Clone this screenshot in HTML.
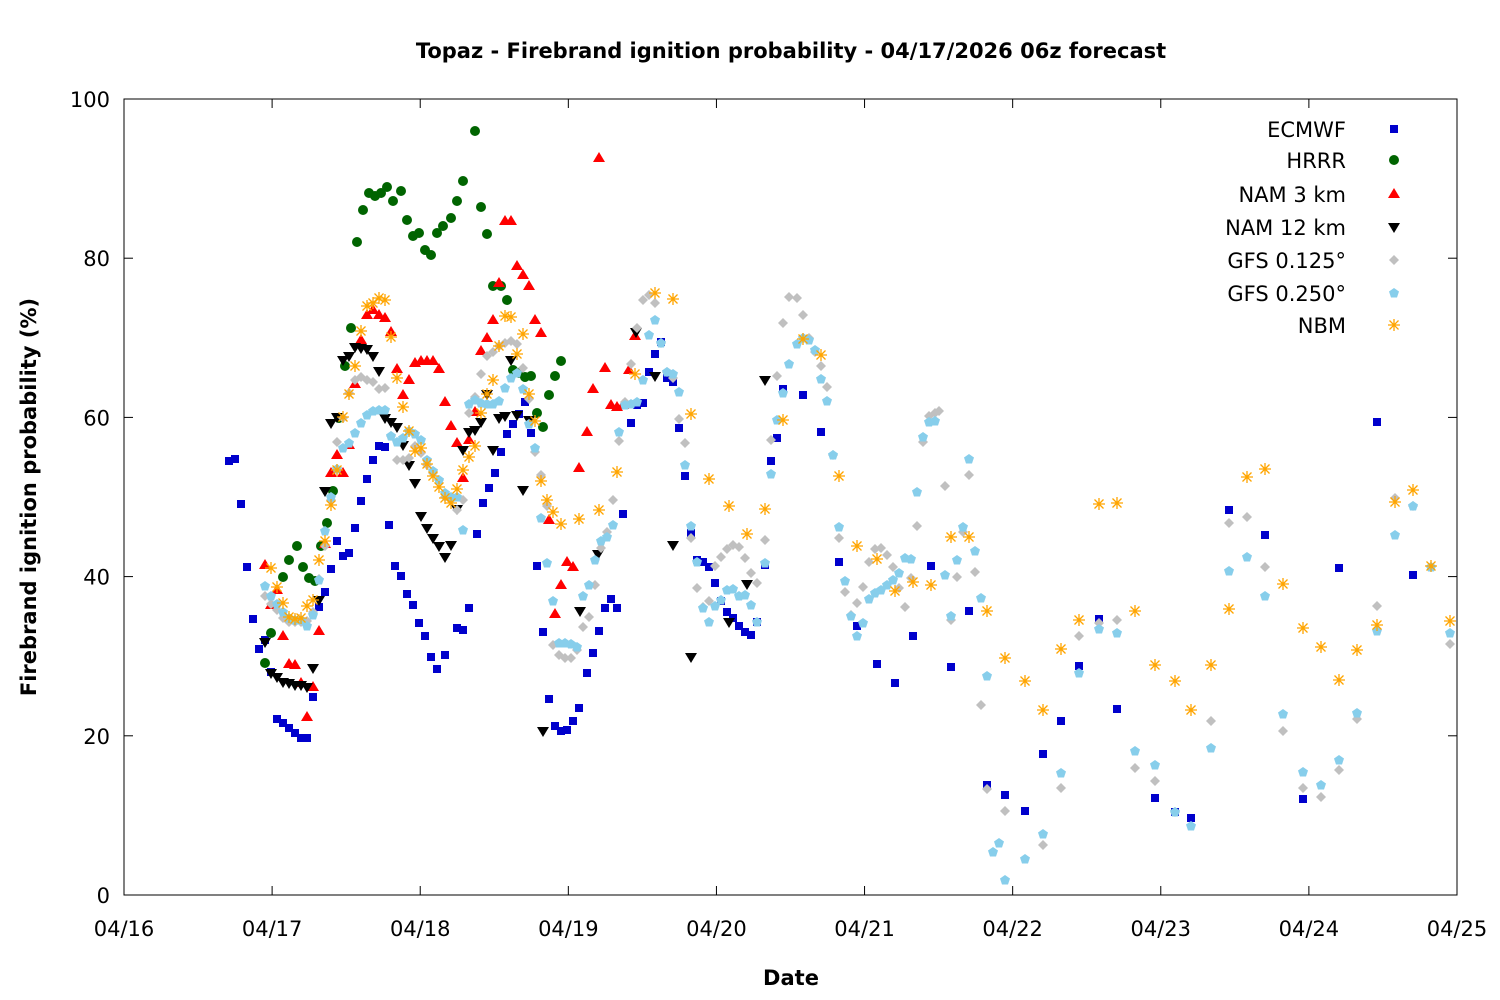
<!DOCTYPE html>
<html><head><meta charset="utf-8"><style>
body{margin:0;background:#fff;}
svg{display:block;font-family:"DejaVu Sans","Liberation Sans",sans-serif;}
</style></head><body>
<svg id="s" width="1500" height="1000" xmlns="http://www.w3.org/2000/svg">
<rect width="1500" height="1000" fill="#fff"/>
<text x="791" y="58" text-anchor="middle" font-size="21" font-weight="bold">Topaz - Firebrand ignition probability - 04/17/2026 06z forecast</text>
<text x="791" y="985" text-anchor="middle" font-size="21" font-weight="bold">Date</text>
<text transform="translate(36,497) rotate(-90)" text-anchor="middle" font-size="21" font-weight="bold">Firebrand ignition probability (%)</text>
<g id="ax" stroke="#000" stroke-width="1" fill="none"><rect x="124" y="99" width="1333" height="796"/></g>
<g id="lab" font-size="21"></g>
<g id="pts"></g>
</svg>
<script>
const NS="http://www.w3.org/2000/svg";
const ax=document.getElementById('ax'),lab=document.getElementById('lab'),pts=document.getElementById('pts');
function el(p,tag,a,t){const e=document.createElementNS(NS,tag);for(const k in a)e.setAttribute(k,a[k]);if(t)e.textContent=t;p.appendChild(e);return e;}
for(let i=0;i<=5;i++){const y=895-i*159.2;el(ax,'line',{x1:124,y1:y,x2:133,y2:y});el(ax,'line',{x1:1457,y1:y,x2:1448,y2:y});el(lab,'text',{x:110,y:y+8,'text-anchor':'end'},String(i*20));}
const days=['04/16','04/17','04/18','04/19','04/20','04/21','04/22','04/23','04/24','04/25'];
for(let i=0;i<=9;i++){const x=124+i*148.11;el(ax,'line',{x1:x,y1:895,x2:x,y2:886});el(ax,'line',{x1:x,y1:99,x2:x,y2:108});el(lab,'text',{x:x,y:936,'text-anchor':'middle'},days[i]);}
function P(s){return s.trim().split(/\)\s*,\s*\(/).map(q=>q.replace(/[()]/g,'').split(',').map(Number));}
const D={
ec:P("(229,461),(235,459),(241,504),(247,567),(253,619),(259,649),(265,640),(271,672),(277,719),(283,723),(289,728),(295,733),(301,738),(307,738),(313,697),(319,607),(325,592),(331,569),(337,541),(343,556),(349,553),(355,528),(361,501),(367,479),(373,460),(379,446),(385,447),(389,525),(395,566),(401,576),(407,594),(413,605),(419,623),(425,636),(431,657),(437,669),(445,655),(457,628),(463,630),(469,608),(477,534),(483,503),(489,488),(495,473),(501,452),(507,434),(513,424),(519,414),(525,402),(531,433),(537,566),(543,632),(549,699),(555,726),(561,731),(567,730),(573,721),(579,708),(587,673),(593,653),(599,631),(605,608),(611,599),(617,608),(623,514),(631,423),(637,405),(643,403),(649,372),(655,354),(661,342),(667,378),(673,382),(679,428),(685,476),(691,533),(697,560),(703,562),(709,567),(715,583),(721,601),(727,612),(733,618),(739,626),(745,632),(751,635),(757,622),(765,565),(771,461),(777,438),(783,389),(803,395),(821,432),(839,562),(857,626),(877,664),(895,683),(913,636),(931,566),(951,667),(969,611),(987,785),(1005,795),(1025,811),(1043,754),(1061,721),(1079,666),(1099,619),(1117,709),(1155,798),(1175,812),(1191,818),(1229,510),(1265,535),(1303,799),(1339,568),(1377,422),(1413,575)"),
hr:P("(265,663),(271,633),(283,577),(289,560),(297,546),(303,567),(309,578),(315,581),(321,546),(327,523),(333,491),(339,418),(345,366),(351,328),(357,242),(363,210),(369,193),(375,196),(381,193),(387,187),(393,201),(401,191),(407,220),(413,236),(419,233),(425,250),(431,255),(437,233),(443,226),(451,218),(457,201),(463,181),(475,131),(481,207),(487,234),(493,286),(501,286),(507,300),(513,370),(519,373),(525,377),(531,376),(537,413),(543,427),(549,395),(555,376),(561,361)"),
n3:P("(265,565),(271,605),(277,590),(283,636),(289,664),(295,665),(301,683),(307,717),(313,687),(319,631),(325,544),(331,473),(337,455),(343,473),(349,445),(355,384),(361,340),(367,315),(373,310),(379,315),(385,318),(391,332),(397,369),(403,395),(409,380),(415,363),(421,361),(427,361),(433,361),(439,369),(445,402),(451,426),(457,443),(463,478),(469,440),(475,412),(481,351),(487,338),(493,320),(499,283),(505,221),(511,221),(517,266),(523,275),(529,286),(535,320),(541,333),(549,520),(555,614),(561,585),(567,562),(573,567),(579,468),(587,432),(593,389),(599,158),(605,368),(611,405),(617,407),(623,405),(629,370),(635,336)"),
n12:P("(265,642),(271,673),(277,677),(283,682),(289,683),(295,685),(301,685),(307,687),(313,668),(319,600),(325,491),(331,423),(337,417),(343,360),(349,356),(355,347),(361,348),(367,349),(373,356),(379,371),(385,418),(391,422),(397,427),(403,445),(409,465),(415,483),(421,516),(427,528),(433,538),(439,546),(445,557),(451,545),(457,509),(463,450),(469,432),(475,430),(481,422),(487,394),(493,450),(499,418),(505,416),(511,360),(517,415),(523,490),(529,420),(543,731),(580,611),(598,554),(636,332),(655,376),(673,545),(691,657),(729,622),(747,584),(765,380)"),
g1:P("(265,596),(271,604),(277,610),(283,618),(289,622),(295,622),(301,622),(307,621),(313,612),(319,579),(325,546),(331,500),(337,442),(343,418),(349,393),(355,380),(361,377),(367,380),(373,382),(379,389),(385,388),(391,436),(397,460),(403,460),(409,458),(415,446),(421,453),(427,465),(433,473),(439,480),(445,497),(451,500),(457,510),(463,500),(469,413),(475,397),(481,374),(487,356),(493,352),(499,346),(505,343),(511,341),(517,344),(523,368),(529,399),(535,452),(541,475),(547,506),(553,645),(559,655),(565,658),(571,658),(577,650),(583,627),(589,617),(595,585),(601,548),(607,532),(613,500),(619,441),(625,402),(631,364),(637,328),(643,300),(649,295),(655,303),(661,343),(667,372),(673,378),(679,419),(685,443),(691,538),(697,588),(703,607),(709,601),(715,566),(721,557),(727,549),(733,545),(739,547),(745,558),(751,573),(757,583),(765,540),(771,440),(777,376),(783,323),(789,297),(797,298),(803,315),(809,338),(815,352),(821,366),(827,387),(833,455),(839,538),(845,592),(851,615),(857,603),(863,587),(869,562),(875,549),(881,548),(887,555),(893,567),(899,588),(905,607),(911,578),(917,526),(923,442),(929,416),(935,413),(939,411),(945,486),(951,620),(957,577),(963,532),(969,475),(975,572),(981,705),(987,789),(1005,811),(1043,845),(1061,788),(1079,636),(1099,623),(1117,620),(1135,768),(1155,781),(1175,812),(1211,721),(1229,523),(1247,517),(1265,567),(1283,731),(1303,788),(1321,797),(1339,770),(1357,719),(1377,606),(1395,498),(1413,506),(1431,567),(1450,644)"),
g2:P("(265,586),(271,596),(277,604),(283,612),(289,618),(295,620),(301,620),(307,626),(313,615),(319,580),(325,531),(331,497),(337,469),(343,448),(349,443),(355,433),(361,423),(367,415),(373,411),(379,410),(385,410),(391,436),(397,442),(403,438),(409,431),(415,434),(421,440),(427,460),(433,471),(439,480),(445,493),(451,497),(457,497),(463,530),(469,404),(475,400),(481,403),(487,404),(493,404),(499,401),(505,388),(511,378),(517,373),(523,389),(529,424),(535,448),(541,518),(547,563),(553,601),(559,643),(565,643),(571,644),(577,647),(583,596),(589,585),(595,560),(601,541),(607,537),(613,525),(619,432),(625,405),(631,404),(637,402),(643,380),(649,335),(655,320),(661,343),(667,372),(673,374),(679,392),(685,465),(691,526),(697,562),(703,608),(709,622),(715,606),(721,600),(727,590),(733,589),(739,596),(745,595),(751,605),(757,622),(765,563),(771,474),(777,420),(783,393),(789,364),(797,344),(803,338),(809,340),(815,350),(821,379),(827,401),(833,455),(839,527),(845,581),(851,616),(857,636),(863,623),(869,599),(875,593),(881,590),(887,585),(893,580),(899,573),(905,558),(911,559),(917,492),(923,437),(929,422),(935,421),(945,575),(951,616),(957,560),(963,527),(969,459),(975,551),(981,598),(987,676),(993,852),(999,843),(1005,880),(1025,859),(1043,834),(1061,773),(1079,673),(1099,629),(1117,633),(1135,751),(1155,765),(1175,812),(1191,826),(1211,748),(1229,571),(1247,557),(1265,596),(1283,714),(1303,772),(1321,785),(1339,760),(1357,713),(1377,631),(1395,535),(1413,506),(1431,567),(1450,633)"),
nb:P("(271,568),(277,587),(283,603),(289,617),(295,619),(301,618),(307,606),(313,600),(319,560),(325,541),(331,505),(337,470),(343,417),(349,394),(355,366),(361,331),(367,306),(373,303),(379,298),(385,300),(391,337),(397,378),(403,407),(409,431),(415,451),(421,448),(427,464),(433,476),(439,487),(445,498),(451,503),(457,489),(463,470),(469,457),(475,446),(481,413),(487,394),(493,380),(499,346),(505,316),(511,317),(517,354),(523,334),(529,394),(535,421),(541,481),(547,500),(553,512),(561,524),(579,519),(599,510),(617,472),(635,374),(655,293),(673,299),(691,414),(709,479),(729,506),(747,534),(765,509),(783,420),(803,339),(821,355),(839,476),(857,546),(877,559),(895,591),(913,582),(931,585),(951,537),(969,537),(987,611),(1005,658),(1025,681),(1043,710),(1061,649),(1079,620),(1099,504),(1117,503),(1135,611),(1155,665),(1175,681),(1191,710),(1211,665),(1229,609),(1247,477),(1265,469),(1283,584),(1303,628),(1321,647),(1339,680),(1357,650),(1377,625),(1395,502),(1413,490),(1431,566),(1450,621)")
};
const M={
ec:(g,x,y)=>el(g,'rect',{x:x-4,y:y-4,width:8,height:8,fill:'#0000cc'}),
hr:(g,x,y)=>el(g,'circle',{cx:x,cy:y,r:5,fill:'#006400'}),
n3:(g,x,y)=>el(g,'polygon',{points:`${x},${y-6} ${x+6},${y+4} ${x-6},${y+4}`,fill:'#ff0000'}),
n12:(g,x,y)=>el(g,'polygon',{points:`${x},${y+6} ${x+6},${y-4} ${x-6},${y-4}`,fill:'#000'}),
g1:(g,x,y)=>el(g,'polygon',{points:`${x},${y-5} ${x+5},${y} ${x},${y+5} ${x-5},${y}`,fill:'#c0c0c0'}),
g2:(g,x,y)=>el(g,'polygon',{points:`${x},${y-5} ${x+5},${y-1.5} ${x+3},${y+4.5} ${x-3},${y+4.5} ${x-5},${y-1.5}`,fill:'#87ceeb'}),
nb:(g,x,y)=>el(g,'path',{d:`M${x-6},${y}H${x+6}M${x},${y-6}V${y+6}M${x-4.5},${y-4.5}L${x+4.5},${y+4.5}M${x-4.5},${y+4.5}L${x+4.5},${y-4.5}`,stroke:'#ffa500','stroke-width':1.3,fill:'none'})
};
const order=['ec','hr','n3','n12','g1','g2','nb'];
const names=['ECMWF','HRRR','NAM 3 km','NAM 12 km','GFS 0.125°','GFS 0.250°','NBM'];
const ly=[129,160,194,227,260,293,325];
order.forEach((k,i)=>{D[k].forEach(p=>M[k](pts,p[0],p[1]));M[k](pts,1394,ly[i]);el(lab,'text',{x:1346,y:ly[i]+8,'text-anchor':'end'},names[i]);});
</script>
</body></html>
